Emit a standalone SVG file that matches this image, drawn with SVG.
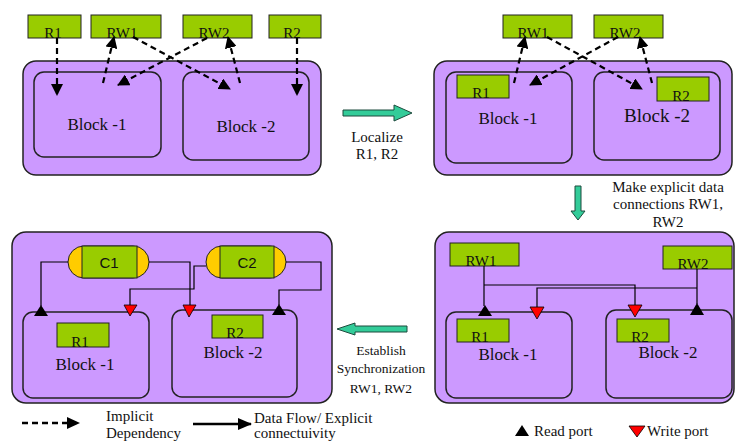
<svg xmlns="http://www.w3.org/2000/svg" width="736" height="442" viewBox="0 0 736 442">
<defs>
<style>
.outer{fill:#CC99FF;stroke:#222;stroke-width:1.5}
.blk{fill:#CC99FF;stroke:#222;stroke-width:1.5}
.gb{fill:#99CC00;stroke:#222;stroke-width:1}
.t{font-family:"Liberation Serif","Times New Roman",serif;fill:#111}
.lbl{font-size:15px;text-anchor:middle}
.bl{font-size:17px;text-anchor:middle}
.cap{font-family:"Liberation Sans",Arial,sans-serif;font-size:15px;text-anchor:middle;fill:#111}
.dash{fill:none;stroke:#000;stroke-width:2.2;stroke-dasharray:6 4;marker-end:url(#ah)}
.wire{fill:none;stroke:#000;stroke-width:1.2}
.teal{fill:#33CC99;stroke:#1d4a3d;stroke-width:1}
.rd{fill:#000}
.wr{fill:#FF0000;stroke:#000;stroke-width:0.8}
.yl{fill:#FFCC00;stroke:#222;stroke-width:1}
</style>
<marker id="ah" markerUnits="userSpaceOnUse" markerWidth="12" markerHeight="12" refX="11" refY="6" orient="auto">
<path d="M0,0 L12,6 L0,12 z" fill="#000" stroke="none"/>
</marker>
<marker id="ahs" markerUnits="userSpaceOnUse" markerWidth="14" markerHeight="12" refX="13" refY="6" orient="auto">
<path d="M0,0 L14,6 L0,12 z" fill="#000" stroke="none"/>
</marker>
</defs>

<!-- Panel 1 -->
<g id="panel1">
<rect class="outer" x="23" y="61" width="298" height="114" rx="13"/>
<g id="p1-block1"><rect class="blk" x="34" y="72" width="127" height="85" rx="10"/><text class="t bl" x="97" y="130">Block -1</text></g>
<g id="p1-block2"><rect class="blk" x="183" y="72" width="126" height="88" rx="10"/><text class="t bl" x="246" y="132">Block -2</text></g>
<g id="p1-R1"><rect class="gb" x="28" y="15" width="53" height="23"/><text class="t lbl" x="53" y="38">R1</text></g>
<g id="p1-RW1"><rect class="gb" x="91" y="15" width="70" height="23"/><text class="t lbl" x="122" y="38">RW1</text></g>
<g id="p1-RW2"><rect class="gb" x="183" y="15" width="69" height="23"/><text class="t lbl" x="214" y="38">RW2</text></g>
<g id="p1-R2"><rect class="gb" x="269" y="15" width="52" height="23"/><text class="t lbl" x="292" y="38">R2</text></g>
</g>

<!-- Panel 2 -->
<g id="panel2">
<rect class="outer" x="434" y="61" width="298" height="114" rx="13"/>
<g id="p2-block1"><rect class="blk" x="446" y="72" width="126" height="91" rx="10"/><text class="t bl" x="508" y="124">Block -1</text></g>
<g id="p2-block2"><rect class="blk" x="594" y="72" width="126" height="88" rx="10"/><text class="t" x="657" y="122" font-size="19" text-anchor="middle">Block -2</text></g>
<g id="p2-R1"><rect class="gb" x="457" y="75" width="52" height="23"/><text class="t lbl" x="481" y="98">R1</text></g>
<g id="p2-R2"><rect class="gb" x="657" y="77" width="52" height="24"/><text class="t lbl" x="681" y="101">R2</text></g>
<g id="p2-RW1"><rect class="gb" x="503" y="15" width="69" height="23"/><text class="t lbl" x="533" y="38">RW1</text></g>
<g id="p2-RW2"><rect class="gb" x="594" y="15" width="69" height="23"/><text class="t lbl" x="625" y="38">RW2</text></g>
</g>

<!-- Panel 3 -->
<g id="panel3">
<rect class="outer" x="435" y="232" width="299" height="171" rx="14"/>
<g id="p3-block1"><rect class="blk" x="446" y="312" width="126" height="86" rx="10"/><text class="t bl" x="508" y="360">Block -1</text></g>
<g id="p3-block2"><rect class="blk" x="606" y="310" width="126" height="88" rx="10"/><text class="t bl" x="668" y="358">Block -2</text></g>
<g id="p3-R1"><rect class="gb" x="457" y="319" width="52" height="23"/><text class="t lbl" x="480" y="342">R1</text></g>
<g id="p3-R2"><rect class="gb" x="617" y="319" width="52" height="23"/><text class="t lbl" x="640" y="342">R2</text></g>
<g id="p3-RW1"><rect class="gb" x="450" y="243" width="69" height="23"/><text class="t lbl" x="481" y="266">RW1</text></g>
<g id="p3-RW2"><rect class="gb" x="663" y="246" width="69" height="23"/><text class="t lbl" x="693" y="269">RW2</text></g>
</g>

<!-- Panel 4 -->
<g id="panel4">
<rect class="outer" x="12" y="232" width="320" height="171" rx="14"/>
<g id="p4-block1"><rect class="blk" x="23" y="312" width="126" height="86" rx="10"/><text class="t bl" x="85" y="370">Block -1</text></g>
<g id="p4-block2"><rect class="blk" x="172" y="310" width="125" height="87" rx="10"/><text class="t bl" x="233" y="358">Block -2</text></g>
<g id="p4-R1"><rect class="gb" x="57" y="323" width="52" height="24"/><text class="t lbl" x="80" y="347">R1</text></g>
<g id="p4-R2"><rect class="gb" x="212" y="315" width="51" height="23"/><text class="t lbl" x="235" y="338">R2</text></g>
<g id="p4-C1"><rect class="yl" x="68" y="246" width="81" height="32" rx="16"/><rect class="gb" x="82" y="246" width="55" height="32"/><text class="cap" x="109" y="268">C1</text></g>
<g id="p4-C2"><rect class="yl" x="206" y="246" width="80" height="32" rx="16"/><rect class="gb" x="220" y="246" width="54" height="32"/><text class="cap" x="247" y="268">C2</text></g>
</g>

<!-- Connectors -->
<g id="connectors">
<path class="dash" d="M57,38 L57,95"/>
<path class="dash" d="M103,83 L114,37"/>
<path class="dash" d="M133,37 L230,89"/>
<path class="dash" d="M207,38 L118,85"/>
<path class="dash" d="M240,83 L228,37"/>
<path class="dash" d="M297,38 L297,95"/>
<path class="dash" d="M514,83 L525,37"/>
<path class="dash" d="M547,37 L642,89"/>
<path class="dash" d="M618,37 L530,85"/>
<path class="dash" d="M652,83 L640,37"/>
<path class="wire" d="M484,266 L484,306"/>
<path class="wire" d="M484,285 L635,285 L635,306"/>
<path class="wire" d="M697,269 L697,304"/>
<path class="wire" d="M697,288 L537,288 L537,308"/>
<polygon class="rd" points="485,305 478,316 492,316"/>
<polygon class="wr" points="530,307 544,307 537,319"/>
<polygon class="wr" points="628,305 642,305 635,317"/>
<polygon class="rd" points="697,303 690,315 704,315"/>
<path class="wire" d="M68,262 L41,262 L41,306"/>
<path class="wire" d="M149,262 L190,262 L190,306"/>
<path class="wire" d="M206,266 L194,266 L194,289 L130,289 L130,306"/>
<path class="wire" d="M286,262 L321,262 L321,290 L279,290 L279,305"/>
<polygon class="rd" points="41,305 34,316 48,316"/>
<polygon class="wr" points="124,305 137,305 130,316"/>
<polygon class="wr" points="183,305 196,305 189,317"/>
<polygon class="rd" points="279,304 272,315 286,315"/>
<polygon class="teal" points="343,110 394,110 394,105 412,113 394,121 394,116 343,116"/>
<polygon class="teal" points="575,186 581,186 581,211 585,211 578,220 571,211 575,211"/>
<polygon class="teal" points="407,326 355,326 355,323 337,329 355,335 355,332 407,332"/>
</g>

<g id="labels">
<text class="t" x="377" y="142" font-size="15" text-anchor="middle">Localize</text>
<text class="t" x="377" y="159" font-size="15" text-anchor="middle">R1, R2</text>
<text class="t" x="668" y="192" font-size="15" text-anchor="middle">Make explicit data</text>
<text class="t" x="668" y="209" font-size="15" text-anchor="middle">connections RW1,</text>
<text class="t" x="668" y="227" font-size="15" text-anchor="middle">RW2</text>
<text class="t" x="381" y="355" font-size="13.5" text-anchor="middle">Establish</text>
<text class="t" x="381" y="373" font-size="13.5" text-anchor="middle">Synchronization</text>
<text class="t" x="381" y="393" font-size="13.5" text-anchor="middle">RW1, RW2</text>
</g>

<g id="legend">
<path d="M22,423 L68,423" stroke="#000" stroke-width="2.5" stroke-dasharray="6 4" fill="none"/>
<polygon points="67,417 80,423 67,429" fill="#000"/>
<text class="t" x="106" y="421" font-size="15">Implicit</text>
<text class="t" x="106" y="438" font-size="15">Dependency</text>
<path d="M193,424 L251,424" stroke="#000" stroke-width="2.5" fill="none" marker-end="url(#ahs)"/>
<text class="t" x="254" y="423" font-size="15">Data Flow/ Explicit</text>
<text class="t" x="254" y="438" font-size="15">connectuivity</text>
<polygon points="522,425 515,436 529,436" fill="#000"/>
<text class="t" x="534" y="436" font-size="15">Read port</text>
<polygon points="629,426 645,426 637,437" fill="#FF0000" stroke="#000" stroke-width="0.8"/>
<text class="t" x="647" y="436" font-size="15">Write port</text>
</g>
</svg>
